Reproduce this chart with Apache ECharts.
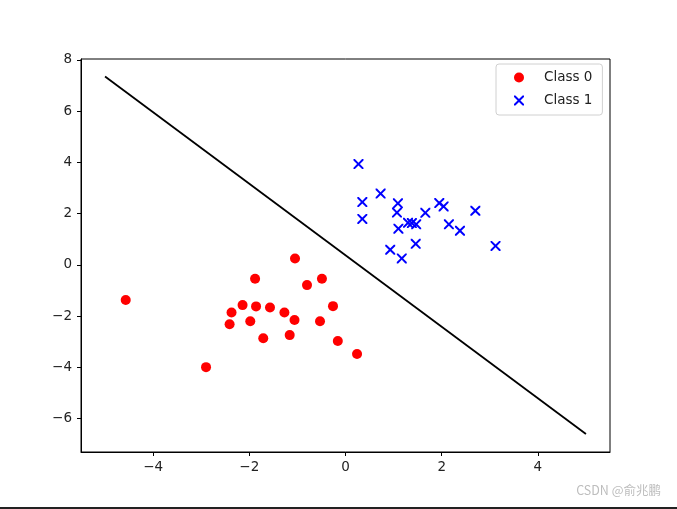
<!DOCTYPE html>
<html>
<head>
<meta charset="utf-8">
<script src="https://cdn.jsdelivr.net/npm/echarts@6/dist/echarts.min.js"></script>
<style>
html,body{margin:0;padding:0;background:#fff;}
#chart{width:677px;height:509px;}
</style>
</head>
<body>
<div id="chart"></div>
<script>
const class0 = [
  [-4.57,-1.37],[-2.90,-3.99],[-1.05,0.25],[-1.88,-0.54],[-0.80,-0.79],
  [-0.49,-0.54],[-2.14,-1.57],[-1.86,-1.62],[-1.57,-1.66],[-2.37,-1.86],
  [-1.27,-1.86],[-0.26,-1.61],[-1.06,-2.15],[-0.53,-2.20],[-2.41,-2.32],
  [-1.98,-2.20],[-1.71,-2.86],[-1.16,-2.74],[-0.16,-2.97],[0.24,-3.48]
];
const class1 = [
  [0.27,3.93],[0.73,2.78],[0.35,2.45],[0.35,1.79],[1.09,2.40],
  [1.07,2.04],[1.10,1.41],[1.30,1.64],[1.38,1.63],[1.47,1.58],
  [1.66,2.03],[1.95,2.41],[2.04,2.28],[2.15,1.58],[2.38,1.33],
  [2.70,2.11],[3.12,0.74],[1.46,0.82],[0.93,0.59],[1.17,0.25]
];
const boundary = [[-5,7.35],[5,-6.6]];
const xTicks = [-4,-2,0,2,4];
const yTicks = [-6,-4,-2,0,2,4,6,8];

const xPath = 'path://M0,0 L1.4,0 L5,3.6 L8.6,0 L10,0 L10,1.4 L6.4,5 L10,8.6 L10,10 L8.6,10 L5,6.4 L1.4,10 L0,10 L0,8.6 L3.6,5 L0,1.4 Z';
const font = 'DejaVu Sans';
const axisCommon = {
  axisLine:{show:true,onZero:false,lineStyle:{color:'#000',width:1}},
  axisTick:{show:true,inside:false,length:4,lineStyle:{color:'#000',width:1}},
  splitLine:{show:false},
  axisLabel:{color:'#222',fontFamily:font,fontSize:13.5}
};
const chart = echarts.init(document.getElementById('chart'),null,{renderer:'canvas'});
chart.setOption({
  animation:false,
  backgroundColor:'#fff',
  grid:{left:81,right:67,top:59,bottom:57,show:true,borderColor:'#000',borderWidth:1},
  xAxis:{type:'value',min:-5.5,max:5.5,
    axisLine:axisCommon.axisLine,
    axisTick:Object.assign({},axisCommon.axisTick,{customValues:xTicks}),
    axisLabel:Object.assign({},axisCommon.axisLabel,{customValues:xTicks,margin:8,formatter:v=>String(v).replace('-','\u2212')}),
    splitLine:{show:false}},
  yAxis:{type:'value',min:-7.3,max:8.03,
    axisLine:axisCommon.axisLine,
    axisTick:Object.assign({},axisCommon.axisTick,{customValues:yTicks}),
    axisLabel:Object.assign({},axisCommon.axisLabel,{customValues:yTicks,margin:9,formatter:v=>String(v).replace('-','\u2212')}),
    splitLine:{show:false}},
  legend:{
    orient:'vertical',left:496,top:64,
    padding:[5,10,6,18],itemGap:6,itemWidth:10,itemHeight:10,
    backgroundColor:'#fff',borderColor:'#d0d0d0',borderWidth:1,borderRadius:3,
    textStyle:{fontFamily:font,fontSize:13.5,color:'#222',padding:[0,0,0,15],lineHeight:17},
    data:[{name:'Class 0',icon:'circle'},{name:'Class 1',icon:xPath}]
  },
  series:[
    {type:'line',name:'boundary',data:boundary,showSymbol:false,symbol:'none',
     lineStyle:{color:'#000',width:1.8},z:1},
    {type:'scatter',name:'Class 0',data:class0,symbol:'circle',symbolSize:10,
     itemStyle:{color:'#ff0000',opacity:1},z:3},
    {type:'scatter',name:'Class 1',data:class1,symbol:xPath,symbolSize:10,
     itemStyle:{color:'#0000ff',opacity:1},z:3}
  ],
  graphic:[
    {type:'text',right:16,top:484,style:{text:'CSDN @俞兆鹏',fill:'#bdbdbd',font:'12.5px "Noto Sans CJK SC", sans-serif'}},
    {type:'rect',left:0,top:507,shape:{width:677,height:2},style:{fill:'#222'}}
  ]
});
</script>
</body>
</html>
